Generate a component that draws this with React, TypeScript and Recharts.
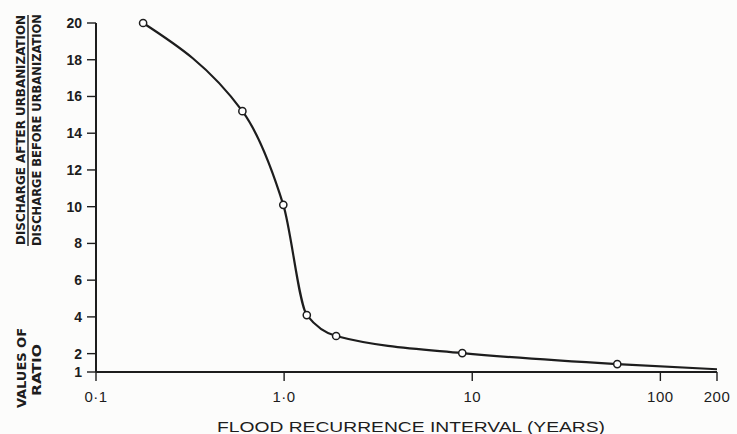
import React from 'react';
import { LineChart, Line, XAxis, YAxis } from 'recharts';

// flood recurrence interval (years)
const intervals = [0.178, 0.6, 0.99, 1.32, 1.89, 8.85, 59, 200];
// ratio of discharge after / before urbanization
const ratios = [20, 15.2, 10.1, 4.1, 2.96, 2.03, 1.43, 1.15];
// which points are plotted as open circles (last one is just the curve end)
const observed = [true, true, true, true, true, true, true, false];

const xTicks = [0.1, 1, 10, 100, 200];
const xTickLabels = ['0·1', '1·0', '10', '100', '200'];
const yTicks = [1, 2, 4, 6, 8, 10, 12, 14, 16, 18, 20];

const data = intervals.map((x, i) => ({ x, ratio: ratios[i], obs: observed[i] }));

const INK = '#1d1d1d';
const FONT = '"Liberation Sans", Arial, sans-serif';
const TITLE_FONT = '"DejaVu Sans Condensed", "Liberation Sans Narrow", sans-serif';

// piecewise cubic hermite (weighted harmonic mean tangents), drawn in pixel space
const smoothCurve = (context: any) => {
  let pts: number[][] = [];
  return {
    areaStart() {},
    areaEnd() {},
    lineStart() {
      pts = [];
    },
    point(x: number, y: number) {
      pts.push([+x, +y]);
    },
    lineEnd() {
      const n = pts.length;
      if (!n) return;
      context.moveTo(pts[0][0], pts[0][1]);
      if (n === 1) return;
      const h: number[] = [];
      const s: number[] = [];
      for (let i = 0; i < n - 1; i++) {
        h.push(pts[i + 1][0] - pts[i][0]);
        s.push((pts[i + 1][1] - pts[i][1]) / h[i]);
      }
      const t: number[] = new Array(n).fill(0);
      for (let i = 1; i < n - 1; i++) {
        const s0 = s[i - 1], s1 = s[i], h0 = h[i - 1], h1 = h[i];
        t[i] = s0 * s1 <= 0 ? 0 : (3 * (h0 + h1)) / ((2 * h1 + h0) / s0 + (h1 + 2 * h0) / s1);
      }
      if (n > 2) {
        t[0] = (3 * s[0] - t[1]) / 2;
        t[n - 1] = (3 * s[n - 2] - t[n - 2]) / 2;
        if (t[0] * s[0] < 0) t[0] = 0;
        if (t[n - 1] * s[n - 2] < 0) t[n - 1] = 0;
      } else {
        t[0] = t[1] = s[0];
      }
      for (let i = 0; i < n - 1; i++) {
        const dx = h[i] / 3;
        context.bezierCurveTo(
          pts[i][0] + dx, pts[i][1] + dx * t[i],
          pts[i + 1][0] - dx, pts[i + 1][1] - dx * t[i + 1],
          pts[i + 1][0], pts[i + 1][1]
        );
      }
    },
  };
};

const ObsDot = (props: any) => {
  const { cx, cy, payload, index } = props;
  if (!payload || !payload.obs) return <g key={`d-${index}`} />;
  return <circle key={`d-${index}`} cx={cx} cy={cy} r={3.6} fill="#fff" stroke={INK} strokeWidth={1.5} />;
};

const YTitle = () => (
  <g fontFamily={TITLE_FONT} fontWeight="bold" fill={INK}>
    <text transform="translate(20,130) rotate(-90)" textAnchor="middle" dominantBaseline="central"
      fontSize={13} textLength={230} lengthAdjust="spacingAndGlyphs">
      DISCHARGE AFTER URBANIZATION
    </text>
    <line x1={28} x2={28} y1={15} y2={246} stroke={INK} strokeWidth={1.4} />
    <text transform="translate(36.5,130) rotate(-90)" textAnchor="middle" dominantBaseline="central"
      fontSize={13} textLength={232} lengthAdjust="spacingAndGlyphs">
      DISCHARGE BEFORE URBANIZATION
    </text>
    <text transform="translate(21,368) rotate(-90)" textAnchor="middle" dominantBaseline="central"
      fontSize={13} textLength={80} lengthAdjust="spacingAndGlyphs">
      VALUES OF
    </text>
    <text transform="translate(36,370) rotate(-90)" textAnchor="middle" dominantBaseline="central"
      fontSize={13} textLength={52} lengthAdjust="spacingAndGlyphs">
      RATIO
    </text>
  </g>
);

const XTitle = () => (
  <text x={411} y={426} textAnchor="middle" dominantBaseline="central" fontFamily={FONT}
    fontSize={15} fill={INK} textLength={388} lengthAdjust="spacingAndGlyphs">
    FLOOD RECURRENCE INTERVAL (YEARS)
  </text>
);

export default function App() {
  return (
    <div style={{ position: 'absolute', left: 0, top: 0, width: 737, height: 434, background: '#fcfcfb' }}>
      <LineChart width={737} height={434} data={data} margin={{ top: 23, right: 20, bottom: 12, left: 36 }}>
        <XAxis
          dataKey="x"
          type="number"
          scale="log"
          domain={[0.1, 200]}
          ticks={xTicks}
          allowDataOverflow
          tickFormatter={(v: number) => xTickLabels[xTicks.indexOf(v)] ?? String(v)}
          tickSize={9}
          tickMargin={10}
          height={50}
          axisLine={{ stroke: INK, strokeWidth: 2 }}
          tickLine={{ stroke: INK, strokeWidth: 1.4 }}
          tick={{ fontSize: 15, fill: INK, fontFamily: FONT, letterSpacing: 0.5 }}
          label={{ content: () => <XTitle /> }}
        />
        <YAxis
          type="number"
          domain={[1, 20]}
          ticks={yTicks}
          interval={0}
          tickSize={9}
          tickMargin={5}
          width={60}
          axisLine={{ stroke: INK, strokeWidth: 2 }}
          tickLine={{ stroke: INK, strokeWidth: 1.4 }}
          tick={{ fontSize: 14, fill: INK, fontFamily: FONT, fontWeight: 'bold' }}
          label={{ content: () => <YTitle /> }}
        />
        <Line
          type={smoothCurve as any}
          dataKey="ratio"
          stroke={INK}
          strokeWidth={2.2}
          dot={ObsDot}
          activeDot={false}
          isAnimationActive={false}
        />
      </LineChart>
    </div>
  );
}
